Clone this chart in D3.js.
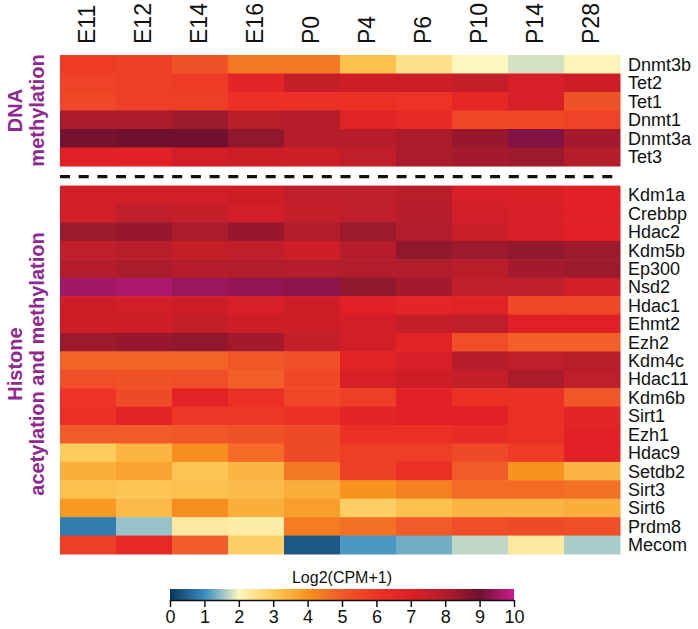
<!DOCTYPE html>
<html>
<head>
<meta charset="utf-8">
<script src="https://cdn.jsdelivr.net/npm/d3@7"></script>
<style>
  html, body { margin: 0; padding: 0; background: #fff; }
  text { font-family: "Liberation Sans", Arial, Helvetica, sans-serif; }
</style>
</head>
<body>
<svg id="chart" width="698" height="629"></svg>
<script>
// ---- data ----
const stages = ["E11", "E12", "E14", "E16", "P0", "P4", "P6", "P10", "P14", "P28"];

const dnaGenes = ["Dnmt3b", "Tet2", "Tet1", "Dnmt1", "Dnmt3a", "Tet3"];
const dnaValues = [
  [5.8, 5.7, 5.2, 4.5, 4.5, 3.2, 2.5, 2.0, 1.8, 2.05],
  [5.6, 5.7, 5.8, 6.7, 7.6, 7.4, 7.4, 7.6, 7.2, 7.4],
  [5.5, 5.7, 5.7, 6.1, 6.1, 6.2, 6.0, 6.6, 7.2, 5.2],
  [8.1, 8.1, 8.3, 7.8, 7.9, 6.8, 6.5, 5.5, 5.5, 5.6],
  [8.9, 9.0, 9.0, 8.5, 7.9, 7.9, 8.1, 8.4, 9.2, 8.2],
  [7.0, 6.9, 7.3, 7.4, 7.4, 7.7, 8.1, 8.2, 8.3, 7.9]
];

const histoneGenes = ["Kdm1a", "Crebbp", "Hdac2", "Kdm5b", "Ep300", "Nsd2", "Hdac1", "Ehmt2", "Ezh2", "Kdm4c",
  "Hdac11", "Kdm6b", "Sirt1", "Ezh1", "Hdac9", "Setdb2", "Sirt3", "Sirt6", "Prdm8", "Mecom"];
const histoneValues = [
  [7.3, 7.3, 7.3, 7.4, 7.7, 7.7, 7.8, 7.2, 7.1, 6.9],
  [7.3, 7.7, 7.6, 7.3, 7.6, 7.7, 7.9, 7.3, 7.2, 6.9],
  [8.3, 8.4, 8.1, 8.4, 8.0, 8.3, 8.0, 7.5, 7.2, 6.9],
  [7.7, 7.8, 7.6, 7.7, 7.4, 7.9, 8.5, 8.3, 8.5, 8.3],
  [7.9, 8.1, 7.9, 8.0, 7.9, 8.0, 8.0, 7.8, 8.2, 8.3],
  [9.6, 9.7, 9.5, 9.4, 9.3, 8.5, 8.2, 7.7, 7.7, 7.3],
  [7.4, 7.3, 7.4, 7.2, 7.4, 7.0, 6.7, 6.8, 5.5, 5.5],
  [7.4, 7.4, 7.6, 7.4, 7.4, 7.3, 7.6, 7.7, 7.0, 7.0],
  [8.3, 8.4, 8.5, 8.2, 7.6, 7.3, 6.8, 5.3, 4.9, 4.9],
  [4.8, 4.8, 4.8, 5.1, 5.3, 6.8, 7.2, 7.9, 7.7, 7.8],
  [5.3, 5.2, 5.3, 4.9, 5.5, 7.2, 7.4, 7.6, 8.1, 7.7],
  [6.0, 5.4, 6.8, 6.2, 5.5, 5.7, 6.9, 6.2, 6.1, 5.1],
  [6.2, 6.8, 5.9, 5.9, 6.1, 6.7, 6.9, 7.0, 6.2, 6.7],
  [5.0, 5.0, 5.1, 5.2, 5.4, 6.2, 6.2, 6.4, 6.2, 6.9],
  [3.0, 3.4, 4.1, 4.7, 5.4, 5.7, 5.7, 5.4, 5.8, 6.9],
  [3.5, 3.7, 3.1, 3.4, 4.5, 5.7, 6.2, 5.0, 4.0, 3.4],
  [3.2, 3.1, 3.2, 3.3, 3.5, 4.0, 4.3, 4.7, 4.7, 4.6],
  [3.9, 3.3, 4.1, 3.5, 3.8, 2.9, 3.2, 3.4, 3.4, 3.5],
  [0.8, 1.5, 2.3, 2.2, 4.4, 4.6, 5.0, 5.3, 5.4, 5.3],
  [5.7, 6.5, 5.0, 2.9, 0.4, 1.1, 1.3, 1.7, 2.3, 1.6]
];

const groupLabels = [["DNA", "methylation"], ["Histone", "acetylation and methylation"]];
const legendTitle = "Log2(CPM+1)";
const legendTicks = [0, 1, 2, 3, 4, 5, 6, 7, 8, 9, 10];
const colorStops = [0, 1, 1.6, 2, 3, 4, 5, 6, 7, 8, 9, 10];
const colorRange = ["#08355a", "#3b8cc2", "#a9cdc9", "#fef6bd", "#fdcb5b", "#f7931e", "#f15a29",
  "#ec3325", "#e01f26", "#b11d2b", "#70102f", "#c71c8b"];

// ---- layout ----
const svg = d3.select("#chart");
const left = 60, right = 620;
const topA = 55, rowH = 18.5, topB = 185.6, rowHB = 18.42;
const purple = "#8e2a8f";

const color = d3.scaleLinear().domain(colorStops).range(colorRange).clamp(true);
const x = d3.scaleBand().domain(stages).range([left, right]);
const yA = d3.scaleBand().domain(dnaGenes).range([topA, topA + rowH * dnaGenes.length]);
const yB = d3.scaleBand().domain(histoneGenes).range([topB, topB + rowHB * histoneGenes.length]);

function drawBlock(genes, values, y) {
  const g = svg.append("g");
  const cells = [];
  genes.forEach((gene, i) => stages.forEach((s, j) => cells.push({gene, s, v: values[i][j]})));
  g.selectAll("rect").data(cells).join("rect")
    .attr("x", d => x(d.s))
    .attr("y", d => y(d.gene))
    .attr("width", x.bandwidth() + 0.5)
    .attr("height", y.bandwidth() + 0.5)
    .attr("fill", d => color(d.v));
  g.selectAll("text.row").data(genes).join("text")
    .attr("class", "row")
    .attr("x", right + 8)
    .attr("y", d => y(d) + y.bandwidth() / 2)
    .attr("dy", "0.36em")
    .attr("font-size", 18)
    .attr("fill", "#111")
    .text(d => d);
}
drawBlock(dnaGenes, dnaValues, yA);
drawBlock(histoneGenes, histoneValues, yB);

// column labels
svg.append("g").selectAll("text").data(stages).join("text")
  .attr("transform", d => `translate(${x(d) + x.bandwidth() / 2 - 1},44) rotate(-90)`)
  .attr("dy", "0.36em")
  .attr("font-size", 23)
  .attr("fill", "#111")
  .text(d => d);

// dashed separator
svg.append("line")
  .attr("x1", left).attr("x2", right)
  .attr("y1", 176.6).attr("y2", 176.6)
  .attr("stroke", "#111").attr("stroke-width", 3.2)
  .attr("stroke-dasharray", "10,8.7");

// group labels
const groupCenters = [topA + rowH * dnaGenes.length / 2, 364];
groupLabels.forEach((lines, k) => {
  const cy = groupCenters[k];
  lines.forEach((t, i) => {
    svg.append("text")
      .attr("transform", `translate(${i === 0 ? 22 : 44},${cy}) rotate(-90)`)
      .attr("text-anchor", "middle")
      .attr("font-size", 20)
      .attr("font-weight", "bold")
      .attr("fill", purple)
      .text(t);
  });
});

// legend
const lx = d3.scaleLinear().domain([0, 10]).range([170, 514]);
const defs = svg.append("defs");
const grad = defs.append("linearGradient").attr("id", "lg").attr("x1", "0%").attr("x2", "100%");
d3.range(0, 10.01, 0.25).forEach(v => {
  grad.append("stop").attr("offset", (v * 10) + "%").attr("stop-color", color(v));
});
svg.append("rect").attr("x", 170).attr("y", 589).attr("width", 344).attr("height", 11)
  .attr("fill", "url(#lg)");
const axis = svg.append("g").attr("transform", "translate(0,600)")
  .call(d3.axisBottom(lx).tickValues(legendTicks).tickSize(7).tickSizeOuter(0).tickFormat(d3.format("d")));
axis.select(".domain").attr("stroke", "#111").attr("stroke-width", 1.5);
axis.selectAll(".tick line").attr("stroke", "#111").attr("stroke-width", 1.5);
axis.selectAll(".tick text").attr("font-size", 18).attr("fill", "#111").attr("y", 10)
  .attr("font-family", "'Liberation Sans', Arial, sans-serif");
svg.append("text").attr("x", 342).attr("y", 583).attr("text-anchor", "middle")
  .attr("font-size", 16).attr("fill", "#111").text(legendTitle);
</script>
</body>
</html>
